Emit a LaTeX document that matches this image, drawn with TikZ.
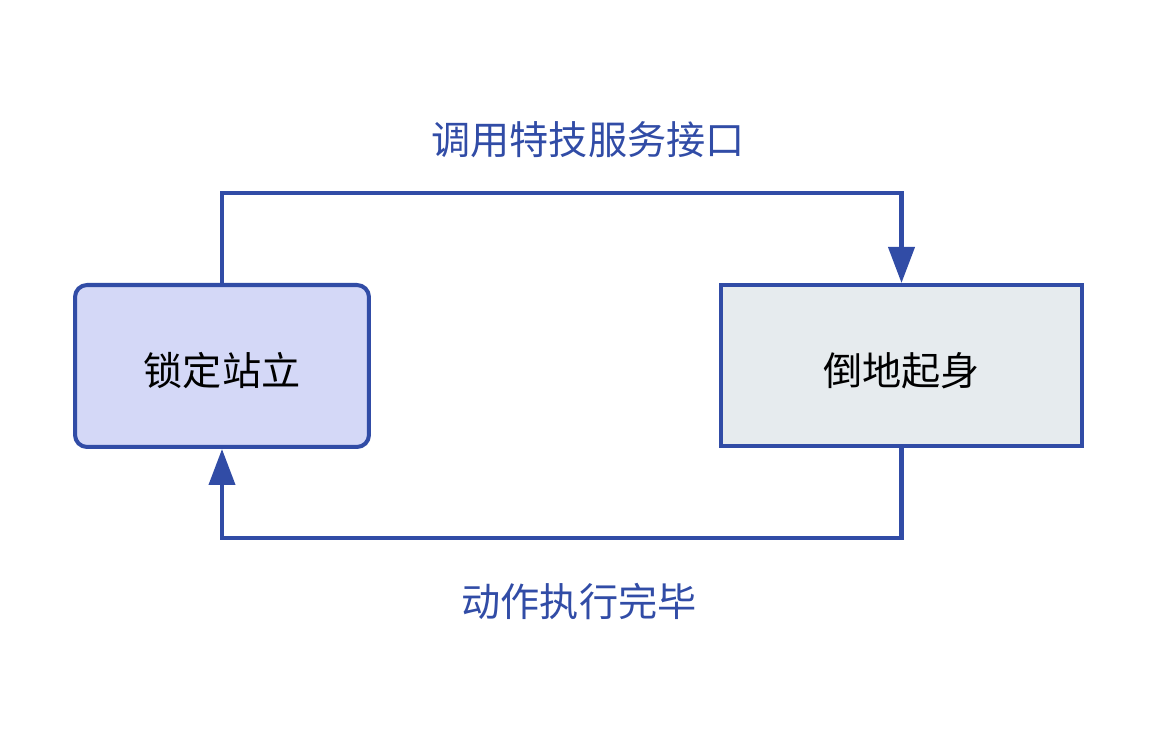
\documentclass[tikz,border=0pt]{standalone}
\usepackage{fontspec}
\setmainfont{Noto Sans CJK SC}
\usepackage{tikz}
\usetikzlibrary{arrows.meta,positioning,calc}
\definecolor{linkblue}{HTML}{314CA6}
\definecolor{lockfill}{HTML}{D4D8F7}
\definecolor{fallfill}{HTML}{E6EBEE}
\tikzset{
	state/.style={draw=linkblue,line width=2.3pt,font=\fontsize{22.3}{26}\selectfont,text=black,text height=25.6pt,text depth=3pt},
	link/.style={draw=linkblue,line width=2.3pt,arrows=-{Triangle[width=0.52cm,length=0.72cm]}},
	linklabel/.style={text=linkblue,font=\fontsize{22.3}{26}\selectfont}
}
\begin{document}
\begin{tikzpicture}[x=0.02cm,y=-0.02cm]
						\useasboundingbox (0,0) rectangle (1157,732);
						\node[state,fill=lockfill,rounded corners=0.24cm,minimum width=5.88cm,minimum height=3.24cm] (lock) at (222,366) {锁定站立};
						\node[state,fill=fallfill,minimum width=7.22cm,minimum height=3.22cm] (fall) at (901.5,365.5) {倒地起身};
						
						
						\draw[link] (lock.north) -- +(0,-90) -| (fall.north);
						\node[linklabel] (call) at (588,140) {调用特技服务接口};
						
						\draw[link] (fall.south) -- +(0,90) -| (lock.south);
						\node[linklabel] (done) at (579,601) {动作执行完毕};
					\end{tikzpicture}
\end{document}
